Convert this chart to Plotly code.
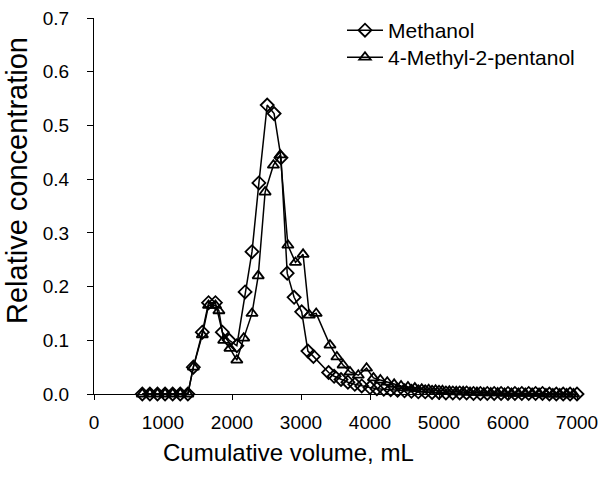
import plotly.graph_objects as go

# Methanol (diamonds)
meth_x = [700, 810, 920, 1030, 1140, 1250, 1360, 1440, 1570, 1660, 1760, 1860, 1960, 2070,
          2190, 2290, 2390, 2510, 2610, 2710, 2800, 2900, 3010, 3100, 3180, 3400, 3480, 3580,
          3680, 3780, 3880, 4000, 4100, 4200, 4300, 4400, 4500, 4600, 4700, 4800, 4900, 5000,
          5100, 5200, 5300, 5400, 5500, 5600, 5700, 5800, 5900, 6000, 6100, 6200, 6300, 6400,
          6500, 6600, 6700, 6800, 6900, 7000]
meth_y = [0.0, 0.0, 0.0, 0.0, 0.0, 0.0, 0.0, 0.050, 0.115, 0.170, 0.170, 0.115, 0.100, 0.090,
          0.190, 0.265, 0.393, 0.538, 0.522, 0.440, 0.225, 0.180, 0.153, 0.080, 0.070, 0.040,
          0.033, 0.027, 0.022, 0.018, 0.015, 0.012, 0.010, 0.009, 0.008, 0.007, 0.006, 0.005,
          0.004, 0.004, 0.003, 0.003, 0.002, 0.002, 0.002, 0.002, 0.001, 0.001, 0.001, 0.001,
          0.001, 0.001, 0.001, 0.001, 0.001, 0.001, 0.001, 0.000, 0.000, 0.000, 0.000, 0.000]

# 4-Methyl-2-pentanol (triangles)
mp_x = [700, 810, 920, 1030, 1140, 1250, 1360, 1440, 1570, 1660, 1760, 1810, 1880, 1970, 2070,
        2170, 2290, 2380, 2480, 2600, 2700, 2810, 2920, 3030, 3120, 3220, 3420, 3520, 3610,
        3710, 3830, 3950, 4050, 4150, 4250, 4350, 4450, 4550, 4650, 4750, 4850, 4950, 5050,
        5150, 5250, 5350, 5450, 5550, 5650, 5750, 5850, 5950, 6050, 6150, 6250, 6350, 6450,
        6550, 6650, 6750, 6850, 6950]
mp_y = [0.0, 0.0, 0.0, 0.0, 0.0, 0.0, 0.0, 0.050, 0.110, 0.165, 0.165, 0.155, 0.100, 0.085,
        0.063, 0.104, 0.150, 0.220, 0.376, 0.426, 0.445, 0.277, 0.245, 0.260, 0.147, 0.150,
        0.091, 0.069, 0.054, 0.041, 0.035, 0.048, 0.030, 0.026, 0.022, 0.018, 0.015, 0.013,
        0.011, 0.009, 0.008, 0.007, 0.006, 0.005, 0.004, 0.004, 0.003, 0.003, 0.002, 0.002,
        0.002, 0.001, 0.001, 0.001, 0.001, 0.001, 0.001, 0.000, 0.000, 0.000, 0.000, 0.000]

x_ticks = [0, 1000, 2000, 3000, 4000, 5000, 6000, 7000]
y_ticks = [0.0, 0.1, 0.2, 0.3, 0.4, 0.5, 0.6, 0.7]

FONT = "Liberation Sans, Arial, sans-serif"

fig = go.Figure()
fig.add_trace(go.Scatter(
    x=meth_x, y=meth_y, name="Methanol", mode="lines+markers", legend="legend",
    line=dict(color="black", width=1.5),
    marker=dict(symbol="diamond-open", size=10, color="black", line=dict(width=1.8)),
    cliponaxis=False))
fig.add_trace(go.Scatter(
    x=mp_x, y=mp_y, name="4-Methyl-2-pentanol", mode="lines+markers", legend="legend2",
    line=dict(color="black", width=1.5),
    marker=dict(symbol="triangle-up-open", size=10, color="black", line=dict(width=1.8)),
    cliponaxis=False))

L, R, T, B = 94, 26, 18, 92
W, H = 603, 486
pw, ph = W - L - R, H - T - B

def px2paper(px, py):
    return (px - L) / pw, (H - B - py) / ph

yx, yy = px2paper(17, 181)
xx, xy = px2paper(288, 452)

leg_common = dict(xanchor="left", yanchor="top", bgcolor="rgba(0,0,0,0)",
                  font=dict(size=21, family=FONT, color="black"), itemwidth=36)

fig.update_layout(
    width=W, height=H,
    margin=dict(l=L, r=R, t=T, b=B, autoexpand=False),
    paper_bgcolor="white", plot_bgcolor="white",
    font=dict(family=FONT, color="black"),
    showlegend=True,
    legend=dict(x=px2paper(342, 0)[0], y=px2paper(0, 10)[1], **leg_common),
    legend2=dict(x=px2paper(342, 0)[0], y=px2paper(0, 37)[1], **leg_common),
    xaxis=dict(range=[0, 7000], tickvals=x_ticks, ticks="outside", ticklen=5,
               tickcolor="black", showline=True, linecolor="black", linewidth=1,
               showgrid=False, zeroline=False, tickfont=dict(size=19, family=FONT),
               ticklabelstandoff=6, automargin=False),
    yaxis=dict(range=[0, 0.7], tickvals=y_ticks, tickformat=".1f", ticks="outside",
               ticklen=6, tickcolor="black", showline=True, linecolor="black", linewidth=1,
               showgrid=False, zeroline=False, tickfont=dict(size=19, family=FONT),
               ticklabelstandoff=14, automargin=False),
    annotations=[
        dict(text="Relative concentration", x=yx, y=yy, xref="paper", yref="paper",
             textangle=-90, showarrow=False, font=dict(size=29, family=FONT),
             xanchor="center", yanchor="middle"),
        dict(text="Cumulative volume, mL", x=xx, y=xy, xref="paper", yref="paper",
             showarrow=False, font=dict(size=24, family=FONT),
             xanchor="center", yanchor="middle"),
    ],
)

fig.write_html("out.html", config={"displayModeBar": False},
               post_script="document.body.style.margin='0px';document.body.style.overflow='hidden';")
